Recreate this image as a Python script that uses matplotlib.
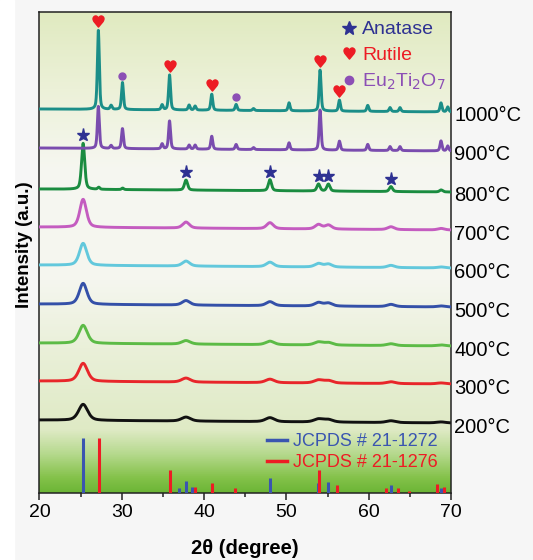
import numpy as np
import matplotlib
matplotlib.use("Agg")
import matplotlib.pyplot as plt
from matplotlib.colors import LinearSegmentedColormap
from matplotlib.lines import Line2D
from matplotlib.patches import Rectangle

plt.rcParams['font.family'] = ['Liberation Sans', 'DejaVu Sans']

# Sample labels, stacking offsets and colours (bottom to top)
temps = ['200°C', '300°C', '400°C', '500°C', '600°C', '700°C', '800°C', '900°C', '1000°C']
offsets = [70, 109, 147, 186, 225, 263, 301, 342, 381]
colors = ['#111111', '#e8262a', '#5cbb46', '#3450a8', '#62c8dc',
          '#c45cc0', '#1a8c40', '#7a4cae', '#1b8e88']

# Anatase reflections seen in the 200-800 °C patterns
anatase_pos = [25.3, 37.8, 48.0, 53.9, 55.1, 62.7, 68.8]
anatase_heights = [
    [16, 4.0, 4.0, 3.0, 2.5, 1.8, 1.0],   # 200
    [18, 4.0, 3.5, 3.0, 2.5, 1.8, 1.0],   # 300
    [18, 3.5, 3.5, 3.0, 2.5, 1.8, 1.0],   # 400
    [21, 4.5, 4.0, 3.5, 3.0, 2.2, 1.0],   # 500
    [22, 5.0, 4.5, 3.5, 3.0, 2.2, 1.0],   # 600
    [28, 6.0, 6.0, 4.5, 4.0, 2.8, 1.5],   # 700
    [46, 10, 11, 7.0, 7.0, 5.0, 2.0],     # 800
]
anatase_fwhm = [1.3, 1.25, 1.2, 1.1, 1.05, 0.95, 0.45]

# Weak extra reflections in the 800 °C pattern
minor800_pos = [27.2, 30.1]
minor800_h = [2.0, 1.5]

# Rutile + Eu2Ti2O7 reflections in the 900 / 1000 °C patterns
hot_pos = [27.15, 28.7, 30.08, 34.9, 35.8, 38.18, 38.91, 40.93, 43.89, 46.0,
           50.32, 54.09, 56.44, 59.88, 62.59, 63.8, 68.78, 69.6]
h_900 = [42, 3, 20, 5, 28, 4, 4, 13, 5, 2, 7, 40, 9, 6, 4, 4, 10, 5]
h_1000 = [79, 4, 27, 5, 35, 5, 4, 16, 6, 2, 8, 41, 11, 6, 4, 4, 9, 5]
hot_fwhm = 0.28

# Phase markers
anatase_marks = [25.3, 37.8, 48.0, 53.9, 55.1, 62.7]   # on 800 °C
rutile_marks = [27.15, 35.8, 40.93, 54.09, 56.44]      # on 1000 °C
eu_marks = [30.08, 43.89]                               # on 1000 °C

# Reference cards
anatase_ref_pos = [25.3, 36.95, 37.85, 38.55, 48.0, 53.85, 55.1, 62.7, 68.8]
anatase_ref_h = [55, 5, 12, 6, 15, 10, 11, 8, 5]
rutile_ref_pos = [27.2, 35.8, 38.95, 40.9, 43.75, 53.9, 56.2, 62.05, 63.5, 64.95, 68.35, 69.1]
rutile_ref_h = [55, 23, 6, 10, 5, 23, 8, 5, 5, 2.5, 9, 6]

x = np.linspace(20, 70, 3000)


def profile(pos, heights, fwhm):
    y = np.zeros_like(x)
    for p, h in zip(pos, heights):
        u = (x - p) / fwhm
        g = np.exp(-4 * np.log(2) * u ** 2)
        l = 1 / (1 + 4 * u ** 2)
        y += h * (0.55 * g + 0.45 * l)
    return y


def peak_top(y, p):
    m = np.abs(x - p) < 0.3
    return y[m].max()


fig = plt.figure(figsize=(5.33, 5.6), dpi=100, facecolor='#f6f6f6')
fig.patches.append(Rectangle((0, 0), 14 / 533, 1, transform=fig.transFigure,
                             color='white', zorder=-1))
ax = fig.add_axes([0.0741, 0.1196, 0.7721, 0.859])

# Background gradient
stops = [(0.0, '#6cb536'), (0.03, '#84c24a'), (0.08, '#b6d98e'), (0.13, '#dfeac5'),
         (0.30, '#eaf0d9'), (0.44, '#f5f6ef'), (0.67, '#f6f7f1'), (0.84, '#ecf1d8'),
         (1.0, '#e0eac0')]
cmap = LinearSegmentedColormap.from_list('bg', stops)
grad = np.linspace(0, 1, 256).reshape(-1, 1)
ax.imshow(grad, cmap=cmap, origin='lower', aspect='auto',
          extent=[20, 70, 0, 481], zorder=0)

bg = 3 * (1 - (x - 20) / 50)
curves = []
for i, t in enumerate(temps):
    if i < 7:
        y = profile(anatase_pos, anatase_heights[i], anatase_fwhm[i])
        if i == 6:
            y += profile(minor800_pos, minor800_h, 0.3)
    elif i == 7:
        y = profile(hot_pos, h_900, hot_fwhm)
    else:
        y = profile(hot_pos, h_1000, hot_fwhm)
    y = y + bg + offsets[i]
    curves.append(y)
    ax.plot(x, y, color=colors[i], lw=2.1, zorder=2 + i)
    ax.text(1.008, offsets[i] - 4, t, transform=ax.get_yaxis_transform(),
            ha='left', va='center', fontsize=14.5, clip_on=False)

# Phase markers over the peaks
for p in anatase_marks:
    ax.plot(p, peak_top(curves[6], p) + 8, marker='*', ms=9.5, color='#2e3192',
            mec='#2e3192', zorder=20)
for p in rutile_marks:
    ax.plot(p, peak_top(curves[8], p) + 9, marker='$\u2665$', ms=8, color='#ed1c24',
            zorder=20)
for p in eu_marks:
    ax.plot(p, peak_top(curves[8], p) + 7, marker='o', ms=5, color='#8c4fb5',
            mec='#8c4fb5', zorder=20)

# Reference sticks
ax.vlines(anatase_ref_pos, 0, anatase_ref_h, color='#3a55b0', lw=2.2, zorder=3)
ax.vlines(rutile_ref_pos, 0, rutile_ref_h, color='#ed1c24', lw=2.2, zorder=3)

phase_handles = [
    Line2D([], [], ls='none', marker='*', ms=10, color='#2e3192'),
    Line2D([], [], ls='none', marker='$\u2665$', ms=8, color='#ed1c24'),
    Line2D([], [], ls='none', marker='o', ms=6, color='#8c4fb5'),
]
leg1 = ax.legend(phase_handles, ['Anatase', 'Rutile', 'Eu$_2$Ti$_2$O$_7$'],
                 loc='upper left', bbox_to_anchor=(0.69, 1.018), frameon=False,
                 fontsize=14, handlelength=0.8, handletextpad=0.3, labelspacing=0.4,
                 labelcolor=['#2e3192', '#ed1c24', '#8c4fb5'])
ax.add_artist(leg1)

ref_handles = [Line2D([], [], color='#3a55b0', lw=2.5),
               Line2D([], [], color='#ed1c24', lw=2.5)]
ax.legend(ref_handles, ['JCPDS # 21-1272', 'JCPDS # 21-1276'],
          loc='upper left', bbox_to_anchor=(0.514, 0.158), frameon=False,
          fontsize=13, handlelength=1.1, handletextpad=0.3, labelspacing=0.2,
          labelcolor=['#3a55b0', '#ed1c24'])

ax.set_xlim(20, 70)
ax.set_ylim(0, 481)
ax.set_xticks([20, 30, 40, 50, 60, 70])
ax.set_xticks([25, 35, 45, 55, 65], minor=True)
ax.set_yticks([])
ax.tick_params(axis='x', which='major', length=5, width=1.1, labelsize=14, pad=3,
               color='#222222')
ax.tick_params(axis='x', which='minor', length=3, width=1.1, color='#222222')
for s in ax.spines.values():
    s.set_linewidth(1.1)
    s.set_color('#222222')

ax.set_xlabel('2θ (degree)', fontsize=14.5, fontweight='bold', labelpad=13)
ax.set_ylabel('Intensity (a.u.)', fontsize=13.5, fontweight='bold')
ax.yaxis.set_label_coords(-0.016, 0.516)

fig.savefig('out.png', dpi=100, facecolor=fig.get_facecolor())
